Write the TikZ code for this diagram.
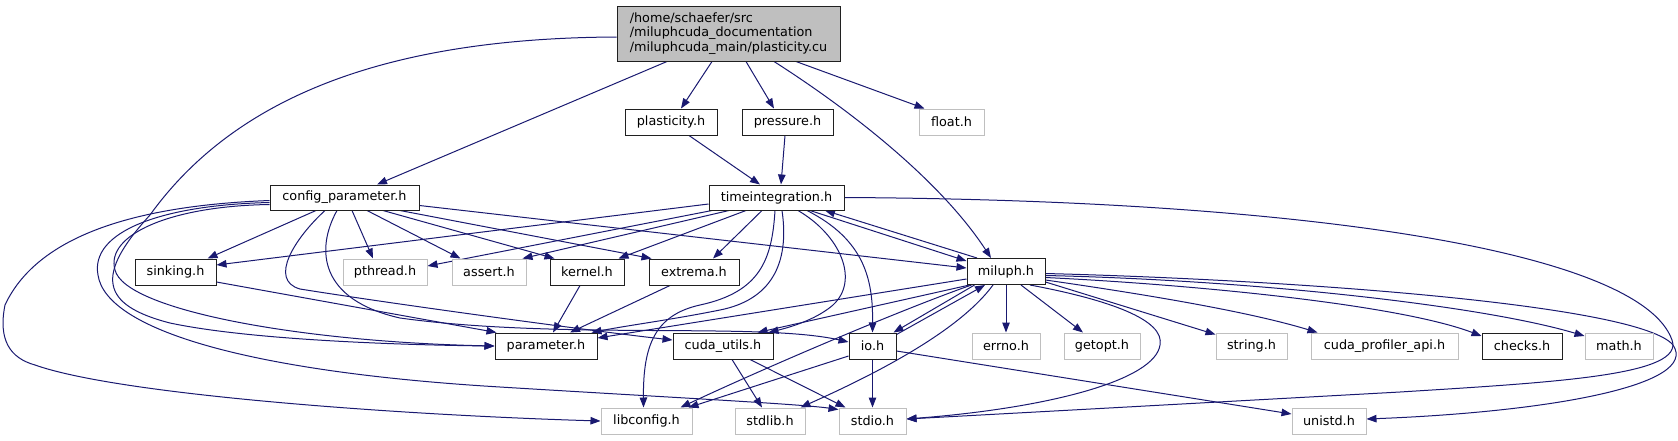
\documentclass[tikz,border=0pt]{standalone}
\usepackage{fontspec}
\setmainfont{DejaVu Sans}
\usetikzlibrary{arrows.meta,calc}
\definecolor{edgeblue}{HTML}{191970}
\definecolor{grayb}{HTML}{BFBFBF}
\definecolor{boxline}{HTML}{202020}
\pgfdeclarelayer{bg}
\pgfsetlayers{bg,main}
\begin{document}
\begin{tikzpicture}[x=1pt,y=-1pt,
  box/.style={draw=boxline, fill=white, line width=1pt, minimum height=26pt, inner sep=0pt, font=\fontsize{12.8}{14.7}\selectfont},
  gbox/.style={box, draw=grayb},
  edge/.style={draw=edgeblue, line width=1pt, -{Triangle[length=10pt,width=7.5pt]}},
]
\useasboundingbox (0,0) rectangle (1678,440);
% nodes
\node[box, fill=grayb, minimum width=223pt, minimum height=55pt, align=left] (main) at (728.5,33.5) {/home/schaefer/src\\/miluphcuda\_documentation\\/miluphcuda\_main/plasticity.cu};
\node[box, minimum width=92pt] (plast) at (671,122) {plasticity.h};
\node[box, minimum width=91pt] (press) at (787.5,122) {pressure.h};
\node[gbox, minimum width=65pt] (float) at (951.5,122) {float.h};
\node[box, minimum width=149pt, minimum height=25pt] (config) at (344.5,197.5) {config\_parameter.h};
\node[box, minimum width=135pt, minimum height=25pt] (timeint) at (776.5,197.5) {timeintegration.h};
\node[box, minimum width=81pt] (sinking) at (175.5,272) {sinking.h};
\node[gbox, minimum width=84pt] (pthread) at (385,272) {pthread.h};
\node[gbox, minimum width=74pt] (assert) at (489,272) {assert.h};
\node[box, minimum width=74pt] (kernel) at (587,272) {kernel.h};
\node[box, minimum width=90pt] (extrema) at (694,272) {extrema.h};
\node[box, minimum width=78pt] (miluph) at (1006,271.5) {miluph.h};
\node[box, minimum width=102pt] (parameter) at (546,346) {parameter.h};
\node[box, minimum width=100pt] (cuda) at (723,346) {cuda\_utils.h};
\node[box, minimum width=47pt] (io) at (872.5,346) {io.h};
\node[gbox, minimum width=68pt] (errno) at (1006,346) {errno.h};
\node[gbox, minimum width=76pt] (getopt) at (1102,346) {getopt.h};
\node[gbox, minimum width=71pt] (string) at (1251.5,346) {string.h};
\node[gbox, minimum width=147pt] (cudaprof) at (1384.5,346) {cuda\_profiler\_api.h};
\node[box, minimum width=80pt] (checks) at (1522,346) {checks.h};
\node[gbox, minimum width=68pt] (math) at (1619,346) {math.h};
\node[gbox, minimum width=91pt] (libconfig) at (646.5,421) {libconfig.h};
\node[gbox, minimum width=70pt] (stdlib) at (770,421) {stdlib.h};
\node[gbox, minimum width=67pt] (stdio) at (872.5,421) {stdio.h};
\node[gbox, minimum width=74pt] (unistd) at (1329,421) {unistd.h};
\begin{pgfonlayer}{bg}
% main
\draw[edge] ($(main.south)+(-61.5,0)$) -- ($(config.north)+(32.5,0)$);
\draw[edge] ($(main.south)+(-16.5,0)$) -- ($(plast.north)+(10,0)$);
\draw[edge] ($(main.south)+(17.5,0)$) -- ($(press.north)+(-13.5,0)$);
\draw[edge] ($(main.south)+(67.5,0)$) -- ($(float.north west)+(6,0)$);
\draw[edge] ($(main.south)+(45.5,0)$) .. controls (850,110) and (940,180) .. ($(miluph.north)+(-15,0)$);
\draw[edge] ($(main.west)+(0,3.5)$) .. controls (400,38) and (240,90) .. (150,215) .. controls (95,275) and (100,305) .. (170,323) .. controls (250,340) and (400,345) .. (parameter.west);
% config
\draw[edge] ($(config.west)+(0,7)$) .. controls (170,206) and (105,235) .. (115,270) .. controls (125,310) and (300,342) .. (parameter.west);
\draw[edge] ($(config.west)+(0,5)$) .. controls (160,205) and (90,232) .. (98,275) .. controls (106,330) and (250,372) .. (500,387) .. controls (680,398) and (800,404) .. ($(stdio.north west)+(0,2)$);
\draw[edge] ($(config.west)+(0,3)$) .. controls (150,205) and (40,230) .. (5,305) .. controls (-2,340) and (10,358) .. (35,365) .. controls (120,395) and (400,415) .. (libconfig.west);
\draw[edge] ($(config.south)+(-28.5,0)$) -- ($(sinking.north)+(32,0)$);
\draw[edge] ($(config.south)+(7.5,0)$) -- ($(pthread.north)+(-12,0)$);
\draw[edge] ($(config.south)+(22.5,0)$) -- ($(assert.north west)+(9,0)$);
\draw[edge] ($(config.south)+(38.5,0)$) -- ($(kernel.north west)+(5,0)$);
\draw[edge] ($(config.south)+(55.5,0)$) -- ($(extrema.north west)+(3,0)$);
\draw[edge] ($(config.east)+(0,8)$) -- ($(miluph.west)+(0,-3.5)$);
\draw[edge] ($(config.south)+(-19.5,0)$) .. controls (295,238) and (268,280) .. (300,289) .. controls (400,305) and (600,332) .. ($(cuda.west)+(0,-6)$);
\draw[edge] ($(config.south)+(-7.5,0)$) .. controls (315,250) and (320,300) .. (400,318) .. controls (560,340) and (760,322) .. ($(io.west)+(0,-4)$);
% sinking, kernel, extrema
\draw[edge] ($(sinking.east)+(0,10)$) -- ($(parameter.north west)+(2,0)$);
\draw[edge] ($(kernel.south)+(-7,0)$) -- ($(parameter.north)+(7,0)$);
\draw[edge] ($(extrema.south)+(-24,0)$) -- ($(parameter.north)+(24,0)$);
% plasticity, pressure
\draw[edge] ($(plast.south)+(18,0)$) -- ($(timeint.north)+(-16.5,0)$);
\draw[edge] ($(press.south)+(-2.5,0)$) -- ($(timeint.north)+(4.5,0)$);
% timeintegration
\draw[edge] ($(timeint.west)+(0,6.5)$) -- ($(sinking.east)+(0,-7)$);
\draw[edge] ($(timeint.south)+(-64.5,0)$) -- ($(pthread.east)+(0,-6)$);
\draw[edge] ($(timeint.south)+(-47.5,0)$) -- ($(assert.north east)+(-4,0)$);
\draw[edge] ($(timeint.south)+(-30.5,0)$) -- ($(kernel.north east)+(-6,0)$);
\draw[edge] ($(timeint.south)+(-14.5,0)$) -- ($(extrema.north)+(19,0)$);
\draw[edge] ($(timeint.south)+(5.5,0)$) .. controls (790,265) and (770,300) .. (720,310) .. controls (670,320) and (630,325) .. ($(parameter.north east)+(-6,0)$);
\draw[edge] ($(timeint.south)+(-1.5,0)$) .. controls (772,260) and (760,292) .. (700,305) .. controls (655,315) and (643,345) .. ($(libconfig.north)+(-3,0)$);
\draw[edge] ($(timeint.south)+(21.5,0)$) .. controls (840,235) and (860,280) .. (833,305) .. controls (818,318) and (795,326) .. ($(cuda.north east)+(-5,0)$);
\draw[edge] ($(timeint.south)+(30.5,0)$) .. controls (865,240) and (873,280) .. (io.north);
\draw[edge] ($(timeint.south)+(33.5,0)$) -- ($(miluph.north west)+(0,3)$);
\draw[edge] (timeint.east) .. controls (1300,200) and (1640,250) .. (1672,340) .. controls (1685,375) and (1560,382) .. (1400,392) .. controls (1200,403) and (1000,414) .. ($(stdio.east)+(0,-2)$);
% miluph
\draw[edge] ($(miluph.north)+(-29,0)$) -- ($(timeint.south)+(48.5,0)$);
\draw[edge] ($(miluph.east)+(0,2)$) .. controls (1300,280) and (1640,305) .. (1673,345) .. controls (1700,385) and (1550,412) .. ($(unistd.east)+(0,-2)$);
\draw[edge] ($(miluph.south)+(24,0)$) .. controls (1110,300) and (1165,320) .. (1160,345) .. controls (1155,380) and (1050,408) .. ($(stdio.east)+(0,-2)$);
\draw[edge] ($(miluph.south)+(-13,0)$) .. controls (960,330) and (880,372) .. ($(stdlib.north east)+(-5,0)$);
\draw[edge] ($(miluph.west)+(0,7.5)$) -- ($(parameter.east)+(0,-8)$);
\draw[edge] ($(miluph.south west)+(3,0)$) -- ($(cuda.north east)+(-16,0)$);
\draw[edge] ($(miluph.south west)+(5,0)$) .. controls (900,310) and (760,370) .. ($(libconfig.north east)+(-12,0)$);
\draw[edge] ($(miluph.south west)+(8,0)$) -- ($(io.north east)+(-3,0)$);
\draw[edge] (miluph.south) -- (errno.north);
\draw[edge] ($(miluph.south)+(15,0)$) -- ($(getopt.north)+(-19,0)$);
\draw[edge] ($(miluph.south east)+(0,-3)$) -- ($(string.north west)+(0,2)$);
\draw[edge] ($(miluph.east)+(0,8.5)$) .. controls (1150,295) and (1250,312) .. ($(cudaprof.north west)+(7,0)$);
\draw[edge] ($(miluph.east)+(0,6)$) .. controls (1200,285) and (1400,305) .. ($(checks.west)+(0,-10)$);
\draw[edge] ($(miluph.east)+(0,4)$) .. controls (1250,280) and (1480,305) .. ($(math.west)+(0,-10)$);
% io
\draw[edge] ($(io.north east)+(0,2)$) -- ($(miluph.south)+(-21,0)$);
\draw[edge] ($(io.west)+(0,10)$) -- ($(libconfig.north east)+(-4,0)$);
\draw[edge] (io.south) -- (stdio.north);
\draw[edge] ($(io.east)+(0,5)$) -- ($(unistd.west)+(0,-7)$);
% cuda_utils
\draw[edge] ($(cuda.south)+(9,0)$) -- ($(stdlib.north)+(-8,0)$);
\draw[edge] ($(cuda.south)+(27,0)$) -- ($(stdio.north west)+(7,0)$);
\end{pgfonlayer}
\end{tikzpicture}
\end{document}
